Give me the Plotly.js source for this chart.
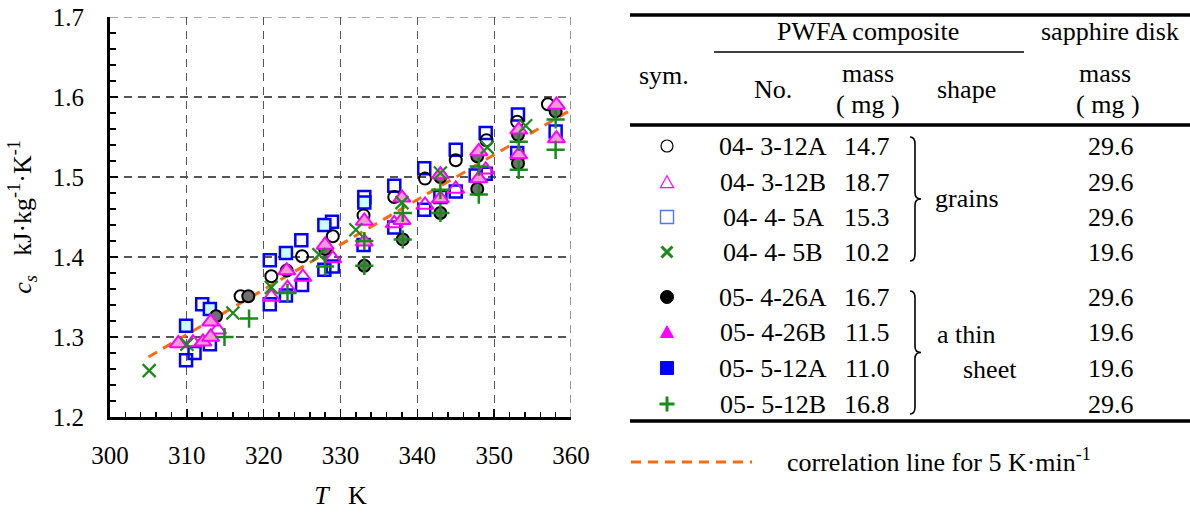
<!DOCTYPE html>
<html>
<head>
<meta charset="utf-8">
<script src="https://cdn.plot.ly/plotly-3.0.1.min.js"></script>
<style>html,body{margin:0;padding:0;background:#fff;}#chart{width:1190px;height:513px;}</style>
</head>
<body>
<div id="chart"></div>
<script>
// ---------------- data ----------------
// 04- 3-12A : open circle
const T_A  = [317, 321, 325, 329, 333, 337, 341, 345, 349, 353, 357];
const cs_A = [1.351, 1.376, 1.401, 1.426, 1.452, 1.475, 1.498, 1.521, 1.546, 1.569, 1.591];
// 04- 3-12B : open triangle
const T_B  = [310.8, 314, 321, 323.1, 325.1, 329, 337, 341, 345, 348.9];
const cs_B = [1.293, 1.309, 1.350, 1.361, 1.375, 1.398, 1.442, 1.465, 1.485, 1.509];
// 04- 4- 5A : open square
const T_C  = [309.9, 311, 312, 313, 320.8, 320.8, 322.9, 324.9, 325, 327.9, 328.9, 329, 333.1, 333, 337, 337, 340.9, 340.9, 343, 345, 345, 347.6, 348.9, 348.9, 353.1, 353, 358];
const cs_C = [1.271, 1.280, 1.341, 1.291, 1.396, 1.341, 1.352, 1.421, 1.365, 1.384, 1.444, 1.388, 1.475, 1.415, 1.489, 1.437, 1.511, 1.459, 1.475, 1.534, 1.482, 1.502, 1.555, 1.504, 1.578, 1.530, 1.557];
// 04- 4- 5B : x
const T_D  = [305.1, 310, 316, 321, 327.2, 332, 338, 343, 349.1, 354.1];
const cs_D = [1.258, 1.291, 1.330, 1.362, 1.403, 1.434, 1.468, 1.505, 1.537, 1.564];
// 05- 4-26A : filled circle
const T_E  = [313.8, 318, 323, 328, 333.1, 338.1, 343, 343, 347.8, 347.8, 353.1, 353.1, 358];
const cs_E = [1.326, 1.351, 1.383, 1.410, 1.389, 1.422, 1.455, 1.500, 1.526, 1.485, 1.553, 1.517, 1.582];
// 05- 4-26B : filled triangle
const T_F  = [308.9, 312.1, 313.1, 313.1, 323, 328, 333.1, 333.1, 338, 338, 343, 343, 348, 348, 353.2, 353.2, 358.1, 358.1];
const cs_F = [1.292, 1.294, 1.300, 1.319, 1.383, 1.415, 1.445, 1.419, 1.474, 1.446, 1.503, 1.473, 1.532, 1.498, 1.559, 1.528, 1.590, 1.548];
// 05- 5-12A : filled square
const T_G  = [309.9, 313, 322.9, 327.9, 333.1];
const cs_G = [1.314, 1.335, 1.405, 1.440, 1.468];
// 05- 5-12B : plus
const T_H  = [314.9, 318.1, 323.1, 328, 333.1, 333.1, 338.1, 338.1, 343, 343, 348, 348, 353.2, 353.2, 358, 358];
const cs_H = [1.300, 1.323, 1.355, 1.388, 1.420, 1.389, 1.455, 1.422, 1.484, 1.455, 1.513, 1.478, 1.544, 1.509, 1.572, 1.534];
// correlation line for 5 K/min
const T_corr  = [305, 360];
const cs_corr = [1.275, 1.584];

const xTicks = [300, 310, 320, 330, 340, 350, 360];
const yTicks = [1.2, 1.3, 1.4, 1.5, 1.6, 1.7];

// table content
const symNames   = ['04- 3-12A','04- 3-12B','04- 4- 5A','04- 4- 5B','05- 4-26A','05- 4-26B','05- 5-12A','05- 5-12B'];
const symMass    = ['14.7','18.7','15.3','10.2','16.7','11.5','11.0','16.8'];
const sapphMass  = ['29.6','29.6','29.6','19.6','29.6','19.6','19.6','29.6'];

// ---------------- layout helpers ----------------
const W = 1190, H = 513, ML = 110, MR = 10, MT = 17, MB = 96;
const PW = W - ML - MR, PH = H - MT - MB;
const px = x => (x - ML) / PW;
const py = y => (H - MB - y) / PH;

const FONT = '"Times New Roman", "Liberation Serif", "DejaVu Serif", serif';
const GREEN = '#1a8a1a';

const traces = [
  {x: T_corr, y: cs_corr, mode: 'lines', name: 'correlation', line: {color: '#ff6a10', width: 3, dash: '10px,7px'}},
  {x: T_C, y: cs_C, mode: 'markers', name: symNames[2], marker: {symbol: 'square-open', size: 12, color: '#0000ff', line: {width: 2.5}}},
  {x: T_G, y: cs_G, mode: 'markers', name: symNames[6], marker: {symbol: 'square', size: 12, color: '#ccffff', line: {color: '#0000ff', width: 2.5}}},
  {x: T_A, y: cs_A, mode: 'markers', name: symNames[0], marker: {symbol: 'circle-open', size: 12, color: '#000', line: {width: 2}}},
  {x: T_E, y: cs_E, mode: 'markers', name: symNames[4], marker: {symbol: 'circle', size: 12, color: '#707070', line: {color: '#000', width: 2}}},
  {x: T_B, y: cs_B, mode: 'markers', name: symNames[1], marker: {symbol: 'triangle-up-open', size: 15, color: '#ff00ff', line: {width: 2}}},
  {x: T_F, y: cs_F, mode: 'markers', name: symNames[5], marker: {symbol: 'triangle-up', size: 15, color: '#f59ad5', line: {color: '#ff00ff', width: 2}}},
  {x: T_D, y: cs_D, mode: 'markers', name: symNames[3], marker: {symbol: 'x-thin-open', size: 13, color: GREEN, line: {width: 2.2}}},
  {x: T_H, y: cs_H, mode: 'markers', name: symNames[7], marker: {symbol: 'cross-thin-open', size: 13, color: GREEN, line: {width: 2.5}}}
];

// ---------------- table: lines, texts, symbols ----------------
const shapes = [];
const ann = [];
// top and right dashed frame lines (grid at range ends)
shapes.push({type: 'line', xref: 'x', yref: 'y', x0: 300, x1: 360, y0: 1.7, y1: 1.7, layer: 'below', line: {color: '#555', width: 1.2, dash: '8px,6px'}});
shapes.push({type: 'line', xref: 'x', yref: 'y', x0: 360, x1: 360, y0: 1.2, y1: 1.7, layer: 'below', line: {color: '#555', width: 1.2, dash: '8px,6px'}});

function hline(x0, x1, y, w) {
  shapes.push({type: 'line', xref: 'paper', yref: 'paper', x0: px(x0), x1: px(x1), y0: py(y), y1: py(y), line: {color: '#000', width: w}});
}
function text(x, y, t, opt) {
  ann.push(Object.assign({xref: 'paper', yref: 'paper', x: px(x), y: py(y), text: t, showarrow: false,
    xanchor: 'center', yanchor: 'middle', font: {family: FONT, size: 26, color: '#000'}}, opt || {}));
}
hline(630, 1190, 15, 3.5);
hline(714, 1024, 52, 1.5);
hline(630, 1190, 125, 3.5);
hline(630, 1190, 421, 3.5);

text(868, 31, 'PWFA composite');
text(1110, 31, 'sapphire disk');
text(664, 76, 'sym.');
text(773, 89, 'No.');
text(868, 74, 'mass');
text(868, 105, '( mg )');
text(966, 89, 'shape');
text(1105, 74, 'mass');
text(1108, 105, '( mg )');

const rowY = [147, 182, 217, 252, 297, 332, 368, 404];
for (let i = 0; i < 8; i++) {
  text(773, rowY[i], symNames[i]);
  text(867, rowY[i], symMass[i]);
  text(1111, rowY[i], sapphMass[i]);
}
text(967, 199, 'grains');
text(967, 334, 'a thin');
text(990, 369, 'sheet');

// braces
function brace(x, y0, y1) {
  const ym = (y0 + y1) / 2, xm = x + 5, xt = x + 11;
  const P = (a, b) => px(a) + ',' + py(b);
  const d = 'M' + P(x, y0) + ' Q' + P(xm, y0) + ' ' + P(xm, y0 + 7) +
            ' L' + P(xm, ym - 6) + ' Q' + P(xm, ym) + ' ' + P(xt, ym) +
            ' Q' + P(xm, ym) + ' ' + P(xm, ym + 6) +
            ' L' + P(xm, y1 - 7) + ' Q' + P(xm, y1) + ' ' + P(x, y1);
  shapes.push({type: 'path', xref: 'paper', yref: 'paper', path: d, line: {color: '#000', width: 1.6}});
}
brace(910, 137, 261);
brace(910, 291, 414);

// legend symbols in the table
const sx = 667;
function circ(y, r, fill, col, w) {
  shapes.push({type: 'circle', xref: 'paper', yref: 'paper', x0: px(sx - r), x1: px(sx + r), y0: py(y + r), y1: py(y - r),
    fillcolor: fill, line: {color: col, width: w}});
}
function tri(y, s, fill, col, w) {
  const P = (a, b) => px(a) + ',' + py(b);
  shapes.push({type: 'path', xref: 'paper', yref: 'paper', path: 'M' + P(sx - s, y + s * 0.85) + ' L' + P(sx + s, y + s * 0.85) + ' L' + P(sx, y - s * 0.95) + ' Z',
    fillcolor: fill, line: {color: col, width: w}});
}
function sq(y, s, fill, col, w) {
  shapes.push({type: 'rect', xref: 'paper', yref: 'paper', x0: px(sx - s), x1: px(sx + s), y0: py(y + s), y1: py(y - s),
    fillcolor: fill, line: {color: col, width: w}});
}
function xm(y, s) {
  const P = (a, b) => px(a) + ',' + py(b);
  shapes.push({type: 'path', xref: 'paper', yref: 'paper', path: 'M' + P(sx - s, y - s) + ' L' + P(sx + s, y + s) + ' M' + P(sx - s, y + s) + ' L' + P(sx + s, y - s),
    line: {color: GREEN, width: 3}});
}
function pl(y, s) {
  const P = (a, b) => px(a) + ',' + py(b);
  shapes.push({type: 'path', xref: 'paper', yref: 'paper', path: 'M' + P(sx - s, y) + ' L' + P(sx + s, y) + ' M' + P(sx, y - s) + ' L' + P(sx, y + s),
    line: {color: GREEN, width: 3}});
}
circ(rowY[0] - 1, 6, 'rgba(0,0,0,0)', '#000', 1.2);
tri(rowY[1], 6.5, 'rgba(0,0,0,0)', '#ff00ff', 1.2);
sq(rowY[2], 6.5, 'rgba(0,0,0,0)', '#4d79ff', 1.4);
xm(rowY[3], 5.5);
circ(rowY[4], 6.5, '#000', '#000', 1);
tri(rowY[5], 6.5, '#ff00ff', '#ff00ff', 1);
sq(rowY[6], 6.5, '#0000ff', '#0000ff', 1);
pl(rowY[7], 7.5);

// correlation legend
shapes.push({type: 'line', xref: 'paper', yref: 'paper', x0: px(631), x1: px(752), y0: py(462), y1: py(462),
  line: {color: '#ff6a10', width: 3, dash: '10px,7px'}});
text(785, 460, 'correlation line for 5 K·min<sup>-1</sup>', {xanchor: 'left'});

const layout = {
  width: W, height: H,
  margin: {l: ML, r: MR, t: MT, b: MB, pad: 0},
  paper_bgcolor: '#fff', plot_bgcolor: '#fff',
  showlegend: false,
  font: {family: FONT, size: 25, color: '#000'},
  xaxis: {
    domain: [0, px(571)], range: [300, 360], tickvals: xTicks, ticktext: xTicks.map(String),
    showline: true, linecolor: '#000', linewidth: 3, mirror: false,
    ticks: 'inside', ticklen: 8, tickwidth: 1.5, tickcolor: '#000',
    minor: {dtick: 2, ticks: 'inside', ticklen: 5, tickwidth: 1.5, tickcolor: '#000', showgrid: false},
    showgrid: true, gridcolor: '#555', gridwidth: 1.2, griddash: '8px,6px',
    zeroline: false, tickfont: {family: FONT, size: 25}, ticklabelstandoff: 14,
    title: {text: '<i>T</i>\u00a0\u00a0\u00a0K', font: {family: FONT, size: 26}, standoff: 18}
  },
  yaxis: {
    range: [1.2, 1.7], tickvals: yTicks, ticktext: yTicks.map(v => v.toFixed(1)),
    showline: true, linecolor: '#000', linewidth: 3, mirror: false,
    ticks: 'inside', ticklen: 8, tickwidth: 1.5, tickcolor: '#000',
    minor: {dtick: 0.02, ticks: 'inside', ticklen: 6, tickwidth: 1.5, tickcolor: '#000', showgrid: false},
    showgrid: true, gridcolor: '#555', gridwidth: 1.2, griddash: '8px,6px',
    zeroline: false, tickfont: {family: FONT, size: 25}, ticklabelstandoff: 18,
    title: {text: '<i>c<sub>s</sub></i>\u00a0\u00a0\u00a0kJ·kg<sup>-1</sup>·K<sup>-1</sup>', font: {family: FONT, size: 26}, standoff: 14}
  },
  shapes: shapes,
  annotations: ann
};

Plotly.newPlot('chart', traces, layout, {displayModeBar: false, staticPlot: true});
</script>
</body>
</html>
